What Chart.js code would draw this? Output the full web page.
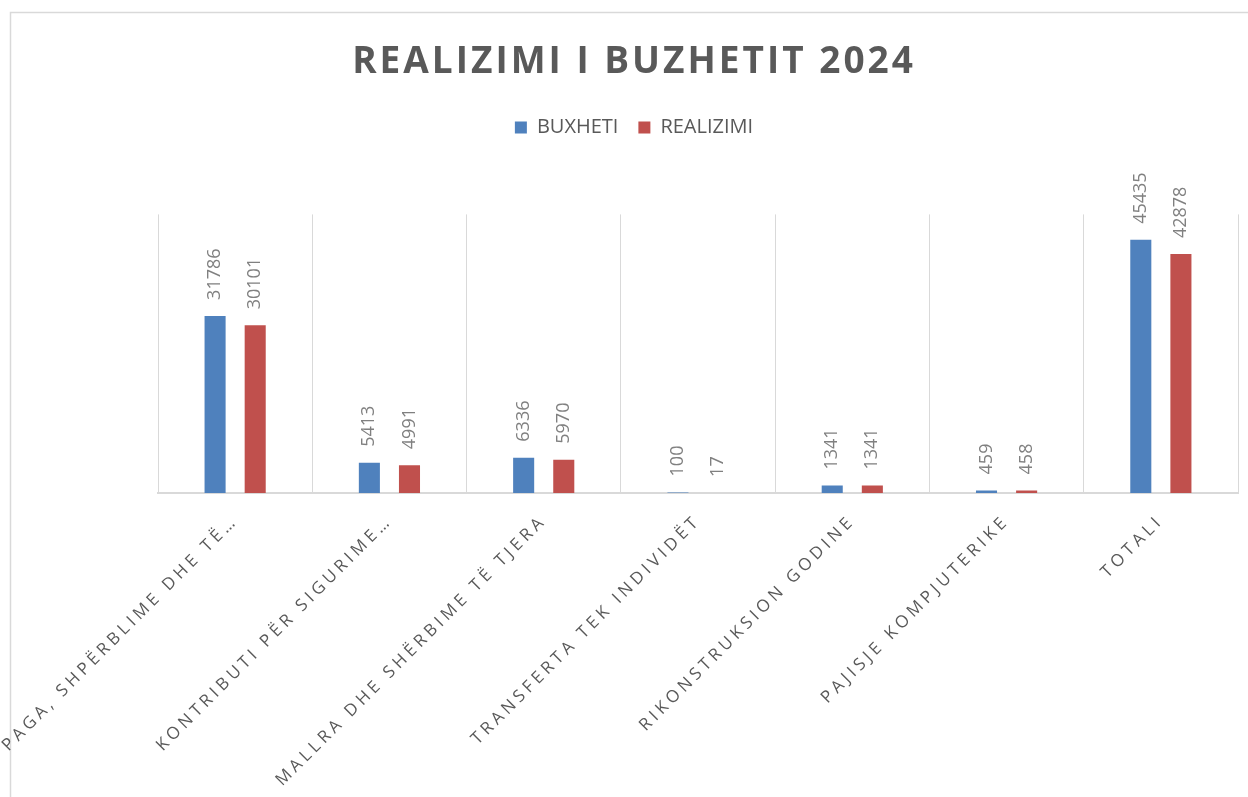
<!DOCTYPE html>
<html>
<head>
<meta charset="utf-8">
<script src="https://cdn.jsdelivr.net/npm/chart.js@4"></script>
<style>
  html, body { margin: 0; padding: 0; background: #fff; overflow: hidden; }
  #wrap { position: absolute; left: 0; top: 0; width: 1248px; height: 797px; }
</style>
</head>
<body>
<div id="wrap"><canvas id="budget-chart"></canvas></div>
<script>
const categories = [
  "PAGA, SHPËRBLIME DHE TË…",
  "KONTRIBUTI PËR SIGURIME…",
  "MALLRA DHE SHËRBIME TË TJERA",
  "TRANSFERTA TEK INDIVIDËT",
  "RIKONSTRUKSION GODINE",
  "PAJISJE KOMPJUTERIKE",
  "TOTALI"
];
const buxheti = [31786, 5413, 6336, 100, 1341, 459, 45435];
const realizimi = [30101, 4991, 5970, 17, 1341, 458, 42878];
const seriesNames = ["BUXHETI", "REALIZIMI"];

const grey = "#595959";
const ctx = document.getElementById("budget-chart").getContext("2d");

// wrap a draw method so its text gets letter spacing
function spaced(obj, method, spacing) {
  if (!obj || obj["_sp_" + method]) return;
  const orig = obj[method];
  obj[method] = function (...args) {
    const c = this.ctx;
    c.save();
    c.letterSpacing = spacing;
    orig.apply(this, args);
    c.restore();
  };
  obj["_sp_" + method] = true;
}

// empty axis used only to reserve space
const spacer = (pos, size) => ({
  type: pos === "top" ? "category" : "linear",
  position: pos,
  display: true,
  grid: { display: false },
  border: { display: false },
  ticks: { display: false },
  afterFit(s) {
    if (pos === "top") s.height = size; else s.width = size;
  }
});

const looks = {
  id: "looks",
  beforeDraw(chart) {
    spaced(chart.titleBlock, "draw", "3px");
    spaced(chart.scales.x, "drawLabels", "4px");
    const c = chart.ctx;
    c.save();
    c.strokeStyle = "#d9d9d9";
    c.lineWidth = 1.5;
    c.strokeRect(10.5, 12.5, 1400, 1000);
    c.restore();
  },
  afterDatasetsDraw(chart) {
    const c = chart.ctx;
    c.save();
    c.font = "18px 'Open Sans'";
    c.fillStyle = "#808080";
    c.textAlign = "left";
    c.textBaseline = "middle";
    chart.data.datasets.forEach((ds, i) => {
      chart.getDatasetMeta(i).data.forEach((bar, j) => {
        c.save();
        c.translate(bar.x, bar.y - 16);
        c.rotate(-Math.PI / 2);
        c.fillText(String(ds.data[j]), 0, 0);
        c.restore();
      });
    });
    c.restore();
  }
};

new Chart(ctx, {
  type: "bar",
  data: {
    labels: categories,
    datasets: [
      { label: seriesNames[0], data: buxheti, backgroundColor: "#4F81BD" },
      { label: seriesNames[1], data: realizimi, backgroundColor: "#C0504D" }
    ]
  },
  options: {
    responsive: true,
    maintainAspectRatio: false,
    animation: false,
    categoryPercentage: 0.52,
    barPercentage: 0.525,
    layout: { padding: { left: 20, right: 0, top: 12, bottom: 0 } },
    plugins: {
      title: {
        display: true,
        text: "REALIZIMI I BUZHETIT 2024",
        color: grey,
        font: { family: "'Open Sans'", size: 37, weight: "bold" },
        padding: { top: 28, bottom: 13 }
      },
      legend: {
        display: true,
        labels: {
          color: grey,
          font: { family: "'Open Sans'", size: 20 },
          boxWidth: 12,
          boxHeight: 12,
          padding: 20
        }
      },
      tooltip: { enabled: false }
    },
    scales: {
      x: {
        grid: { display: true, offset: true, color: "#d9d9d9", lineWidth: 1, drawTicks: false },
        border: { display: true, color: "#d9d9d9", width: 2 },
        ticks: {
          color: grey,
          font: { family: "'Open Sans'", size: 17 },
          minRotation: 45,
          maxRotation: 45,
          autoSkip: false,
          padding: 18
        },
        afterFit(scale) { scale.height = 304; }
      },
      y: {
        display: true,
        min: 0,
        max: 50000,
        grid: { display: false },
        border: { display: false },
        ticks: { display: false },
        afterFit(scale) { scale.width = 138; }
      },
      xTop: spacer("top", 67),
      yRight: spacer("right", 10)
    }
  },
  plugins: [looks]
});
</script>
</body>
</html>
